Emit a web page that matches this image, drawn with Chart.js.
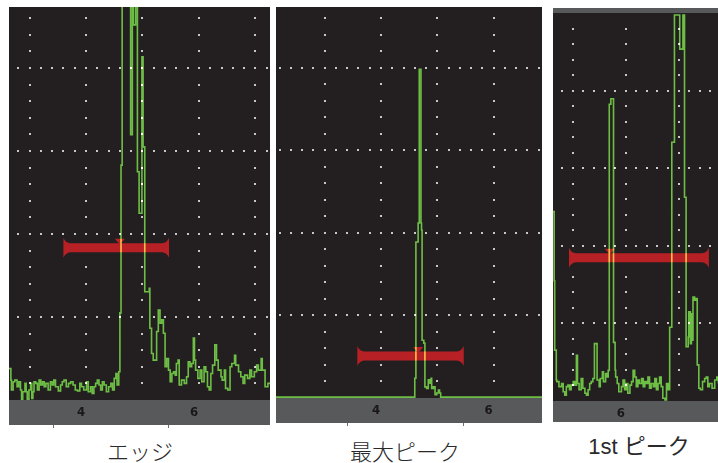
<!DOCTYPE html>
<html lang="ja">
<head>
  <meta charset="UTF-8">
  <title>ゲート検出モード</title>
  <script src="https://cdn.jsdelivr.net/npm/chart.js"></script>
  <style>
    body { margin: 0; background: #fff; width: 718px; height: 463px; position: relative; overflow: hidden; }
    canvas { position: absolute; }
    .cap { position: absolute; font-size: 22px; line-height: 22px; color: #2a2a2a; white-space: nowrap;
           transform: translateX(-50%); font-family: "Noto Sans CJK JP", sans-serif; font-weight: 300; }
  </style>
</head>
<body>
  <canvas id="edgeChart" width="261" height="421" style="left:9px;top:7px"></canvas>
  <canvas id="maxChart" width="266" height="419" style="left:276px;top:7px"></canvas>
  <canvas id="firstChart" width="165" height="414" style="left:553px;top:8px"></canvas>
  <div class="cap" style="left:140px;top:439px">エッジ</div>
  <div class="cap" style="left:405px;top:439px">最大ピーク</div>
  <div class="cap" style="left:639px;top:436px;font-family:'Liberation Sans','Noto Sans CJK JP',sans-serif;font-weight:400">1st ピーク</div>

  <script>
    // エッジ
    const edgeX = [2.62, 2.67, 2.68, 2.71, 2.74, 2.78, 2.81, 2.84, 2.86, 2.88, 2.92, 2.94, 2.96, 2.99, 3.02, 3.04, 3.06, 3.08, 3.11, 3.14,
      3.17, 3.20, 3.23, 3.26, 3.29, 3.33, 3.37, 3.40, 3.43, 3.46, 3.51, 3.55, 3.58, 3.61, 3.65, 3.69, 3.73, 3.77, 3.81, 3.85,
      3.89, 3.92, 3.96, 4.01, 4.04, 4.08, 4.11, 4.14, 4.17, 4.20, 4.23, 4.26, 4.29, 4.32, 4.36, 4.40, 4.44, 4.47, 4.50, 4.53,
      4.55, 4.58, 4.60, 4.62, 4.64, 4.79, 4.82, 4.84, 4.88, 4.91, 4.94, 4.99, 5.01, 5.04,
      5.09, 5.12, 5.13, 5.16, 5.19, 5.23, 5.25, 5.28, 5.31, 5.34, 5.37, 5.40, 5.43, 5.46, 5.49, 5.52, 5.55, 5.58, 5.60, 5.63,
      5.65, 5.69, 5.74, 5.78, 5.81, 5.84, 5.87, 5.90, 5.92, 5.94, 5.98, 6.02, 6.05, 6.09, 6.12, 6.15, 6.18, 6.21, 6.24, 6.28,
      6.31, 6.34, 6.39, 6.41, 6.45, 6.47, 6.51, 6.55, 6.58, 6.63, 6.65, 6.70, 6.74, 6.78, 6.81, 6.86, 6.90, 6.93, 6.98, 7.02,
      7.05, 7.10, 7.12, 7.17, 7.22, 7.27];
    const edgeY = [7.6, 4.8, 2.4, 4.4, 4.8, 3.2, 4.4, 2.4, 0.2, 2.0, 4.0, 2.0, 0.2, 2.4, 4.0, 0.4, 2.0, 4.4, 4.0, 2.4,
      4.8, 3.6, 4.4, 3.2, 4.0, 2.4, 4.4, 3.6, 4.8, 3.2, 2.2, 3.6, 4.4, 4.8, 3.2, 4.0, 4.4, 3.6, 2.4, 2.2,
      4.0, 3.2, 2.4, 4.4, 2.0, 3.2, 1.6, 3.2, 4.0, 4.8, 3.6, 2.4, 4.4, 3.6, 2.0, 3.2, 4.0, 2.4, 5.2, 6.4,
      3.6, 6.8, 21, 56.6, 120, 63.9, 120, 90.4, 120, 55, 45, 82.7, 61, 26.1,
      26.1, 26.9, 17.3, 11.2, 9.6, 9.6, 16.5, 21.7, 18.5, 19.3, 16.1, 8.0, 10.0, 7.2, 4.4, 6.4, 6.8, 6.0, 8.8, 9.6,
      3.6, 4.8, 4.0, 5.6, 9.2, 8.0, 8.8, 14.9, 9.6, 7.2, 5.2, 7.2, 4.4, 8.0, 6.8, 3.2, 2.4, 6.4, 8.4, 13.3,
      9.6, 7.2, 5.6, 4.8, 7.2, 2.8, 2.4, 8.0, 8.8, 10.8, 8.4, 6.8, 5.6, 4.0, 6.0, 5.2, 7.2, 5.6, 6.8, 8.4,
      7.2, 10.0, 7.2, 3.2, 4.0, 4.8];

    // 最大ピーク
    const maxX = [2.10, 4.60, 4.62, 4.66, 4.68, 4.71, 4.72, 4.73, 4.76, 4.78, 4.81, 4.84, 4.87, 4.89, 4.90, 4.93, 4.96, 4.99, 5.02, 5.04, 5.06, 6.90];
    const maxY = [0.2, 4.8, 37.8, 42.4, 79.6, 42.4, 40.7, 14.0, 13.3, 2.7, 2.3, 4.4, 3.6, 4.8, 2.3, 2.7, 0.8, 1.2, 1.9, 1.2, 0.2, 0.2];

    // 1st ピーク
    const firstX = [4.62, 4.65, 4.66, 4.69,
      4.70, 4.74, 4.79, 4.82, 4.85, 4.88, 4.91, 4.94, 4.97, 5.01, 5.04, 5.07, 5.09, 5.12, 5.16, 5.19, 5.23, 5.26, 5.29, 5.32,
      5.35, 5.38, 5.41, 5.46, 5.50, 5.52, 5.56, 5.58, 5.62, 5.65, 5.67,
      5.69, 5.72, 5.77, 5.80,
      5.81, 5.84, 5.87, 5.92, 5.95, 5.98, 6.01, 6.04, 6.08, 6.11, 6.14, 6.17, 6.20, 6.23, 6.26, 6.30, 6.33, 6.36, 6.39, 6.42,
      6.45, 6.48, 6.52, 6.55, 6.58, 6.61, 6.64, 6.67, 6.70, 6.74, 6.77, 6.80,
      6.83, 6.87, 6.92, 7.02, 7.08, 7.11, 7.14,
      7.18, 7.19, 7.22, 7.24, 7.26, 7.27, 7.30, 7.32, 7.35, 7.38, 7.41, 7.45, 7.49, 7.52, 7.55, 7.58, 7.63, 7.68, 7.72, 7.75];
    const firstY = [48.8, 31, 13.1, 5.4,
      5.0, 3.7, 4.5, 2.4, 1.5, 3.7, 4.1, 2.9, 4.1, 5.0, 4.1, 11.8, 4.5, 2.9, 5.8, 3.3, 2.0, 1.5, 2.9, 4.5,
      5.0, 5.8, 14.8, 5.4, 3.7, 5.8, 7.5, 5.0, 7.1, 6.2, 7.9,
      76.5, 77.9, 15.1, 8.0,
      6.2, 4.5, 2.4, 3.7, 5.4, 2.9, 4.5, 2.0, 4.1, 5.0, 7.9, 6.2, 3.7, 5.4, 4.5, 5.8, 3.7, 5.0, 4.5, 6.2,
      3.3, 4.5, 3.7, 5.8, 2.9, 4.5, 6.2, 3.7, 0.7, 0.3, 4.5, 2.9,
      19, 66.7, 99.5, 90.7, 99.5, 52.5, 14.0,
      16.5, 23.0, 14.8, 22.5, 15.7, 26.8, 26.0, 26.4, 9.3, 3.3, 2.9, 5.0, 5.8, 6.2, 3.7, 4.5, 3.3, 5.4, 6.2, 4.5];

    // 目盛りラベル
    const edgeTicks = [4, 6];
    const maxTicks = [4, 6];
    const firstTicks = [6];

    // ゲート [開始, 終了, 高さ%, マーカー位置]
    const edgeGate = [3.60, 5.47, 36.7, 4.60];
    const maxGate = [3.58, 5.47, 10.2, 4.66];
    const firstGate = [4.93, 7.57, 36.9, 5.70];

    // 軸下の小さな目盛り
    const edgeMarks = [3.41, 5.46];
    const maxMarks = [3.40, 5.46];

    // スコープ画面の描画（背景、点線グリッド、ゲート）
    const scopePlugin = {
      id: 'scope',
      beforeDraw(chart, args, opts) {
        const { ctx, chartArea: a, scales: { x, y } } = chart;
        ctx.save();
        ctx.fillStyle = '#58595b';
        ctx.fillRect(a.left, x.top, a.width, x.height);
        if (opts.topBar) ctx.fillRect(a.left, 0, a.width, a.top);
        ctx.fillStyle = '#231f20';
        ctx.fillRect(a.left, a.top, a.width, a.height);

        ctx.fillStyle = '#c8c8c8';
        const dot = (px, py) => ctx.fillRect(Math.round(px) - 1, Math.round(py) - 1, 2, 2);
        for (let v = Math.ceil(x.min); v <= x.max; v++) {
          for (let w = 4; w < y.max; w += 4) dot(x.getPixelForValue(v), y.getPixelForValue(w));
        }
        for (let w = 20; w < y.max; w += 20) {
          for (let k = Math.ceil(x.min * 5); k <= x.max * 5; k++) dot(x.getPixelForValue(k / 5), y.getPixelForValue(w));
        }

        ctx.fillStyle = '#6d6e70';
        (opts.marks || []).forEach(v => ctx.fillRect(Math.round(x.getPixelForValue(v)), x.bottom, 1, 3));
        ctx.restore();
      },
      beforeDatasetsDraw(chart, args, opts) {
        const { ctx, scales: { x, y } } = chart;
        const [from, to, level, mark] = opts.gate;
        const x0 = x.getPixelForValue(from), x1 = x.getPixelForValue(to);
        const yc = y.getPixelForValue(level), m = x.getPixelForValue(mark);
        ctx.save();
        ctx.fillStyle = '#b72025';
        ctx.beginPath();
        ctx.moveTo(x0, yc - 10);
        ctx.quadraticCurveTo(x0 + 2, yc - 5, x0 + 7, yc - 4.5);
        ctx.lineTo(x1 - 7, yc - 4.5);
        ctx.quadraticCurveTo(x1 - 2, yc - 5, x1, yc - 10);
        ctx.lineTo(x1, yc + 10);
        ctx.quadraticCurveTo(x1 - 2, yc + 5, x1 - 7, yc + 4.5);
        ctx.lineTo(x0 + 7, yc + 4.5);
        ctx.quadraticCurveTo(x0 + 2, yc + 5, x0, yc + 10);
        ctx.closePath();
        ctx.fill();
        ctx.beginPath();
        ctx.moveTo(m - 5, yc - 9);
        ctx.lineTo(m + 5, yc - 9);
        ctx.lineTo(m, yc - 3);
        ctx.closePath();
        ctx.fill();
        ctx.restore();
        // 波形を加算合成して、ゲートとの交差部分を黄色にする
        ctx.save();
        ctx.globalCompositeOperation = 'lighter';
      },
      afterDatasetsDraw(chart) {
        chart.ctx.restore();
      }
    };

    function makeScope(id, xs, ys, range, yMax, ticks, gate, marks, bandHeight, pad, topBar) {
      return new Chart(document.getElementById(id), {
        type: 'line',
        data: {
          datasets: [{
            data: xs.map((v, i) => ({ x: v, y: ys[i] })),
            borderColor: '#4a9f25',
            borderWidth: 1.6,
            pointRadius: 0,
            stepped: true,
            clip: { left: 0, top: 0, right: 0, bottom: 1 }
          }]
        },
        options: {
          responsive: false,
          animation: false,
          events: [],
          layout: { padding: pad },
          plugins: {
            legend: { display: false },
            tooltip: { enabled: false },
            scope: { gate: gate, marks: marks, topBar: topBar }
          },
          scales: {
            x: {
              type: 'linear',
              min: range[0],
              max: range[1],
              grid: { display: false, drawTicks: false },
              border: { display: false },
              ticks: {
                color: '#1a1718',
                font: { family: "'DejaVu Sans Condensed', 'Liberation Sans', Arial, sans-serif", size: 13, weight: 'bold' },
                padding: 5,
                labelOffset: -5,
                maxRotation: 0,
                autoSkip: false
              },
              afterBuildTicks: s => { s.ticks = ticks.map(v => ({ value: v })); },
              afterFit: s => { s.height = bandHeight; }
            },
            y: { display: false, min: 0, max: yMax }
          }
        },
        plugins: [scopePlugin]
      });
    }

    makeScope('edgeChart', edgeX, edgeY, [2.637, 7.257], 94.7, edgeTicks, edgeGate, edgeMarks, 25,
      { left: 0, right: 0, top: 0, bottom: 3 }, false);
    makeScope('maxChart', maxX, maxY, [2.135, 6.86], 94.7, maxTicks, maxGate, maxMarks, 25,
      { left: 0, right: 0, top: 0, bottom: 3 }, false);
    makeScope('firstChart', firstX, firstY, [4.628, 7.742], 100, firstTicks, firstGate, [], 21,
      { left: 0, right: 0, top: 5, bottom: 0 }, true);
  </script>
</body>
</html>
